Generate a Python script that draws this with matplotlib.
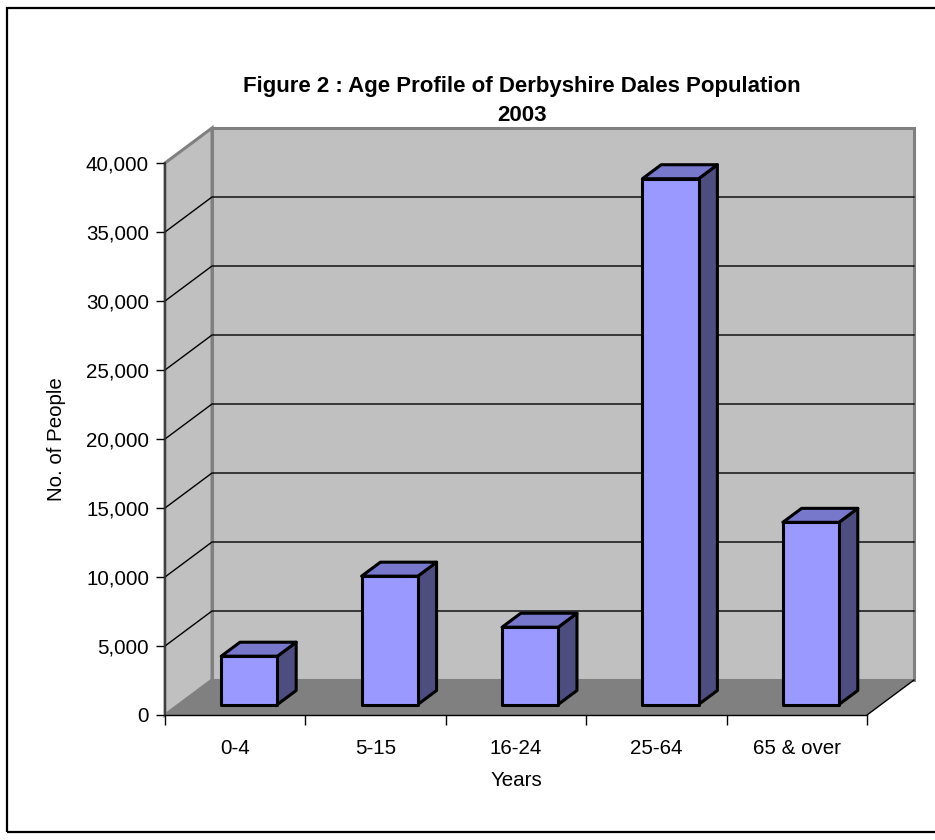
import matplotlib
matplotlib.use("Agg")
import matplotlib.pyplot as plt
from matplotlib.patches import Polygon, Rectangle
from matplotlib.ticker import FuncFormatter, FixedLocator

plt.rcParams['font.family'] = ['Liberation Sans', 'DejaVu Sans']

# Data
categories = ["0-4", "5-15", "16-24", "25-64", "65 & over"]
people = [3500, 9300, 5600, 38100, 13200]
y_ticks = list(range(0, 40001, 5000))

title = "Figure 2 : Age Profile of Derbyshire Dales Population\n2003"
x_title = "Years"
y_title = "No. of People"

# Colours (classic 3-D column palette)
WALL = "#c0c0c0"
WALL_EDGE = "#808080"
FLOOR = "#808080"
BAR_FRONT = "#9999ff"
BAR_TOP = "#7777cc"
BAR_SIDE = "#4d4d80"

W, H = 935, 840
fig = plt.figure(figsize=(W / 100, H / 100), dpi=100)
fig.patch.set_facecolor("white")

# Outer chart frame (its right edge runs past the canvas)
fig.add_artist(Rectangle((7 / W, 8 / H), (W + 10) / W, (H - 16) / H,
                         transform=fig.transFigure, fill=False,
                         edgecolor="black", linewidth=1.6))

# Front plane of the plot area
left, right, bottom, top = 165, 867, 715, 163
ax = fig.add_axes([left / W, (H - bottom) / H, (right - left) / W, (bottom - top) / H])
n = len(categories)
ymax = y_ticks[-1]
ax.set_xlim(0, n)
ax.set_ylim(0, ymax)
ax.patch.set_visible(False)

# Depth offset of the back plane, expressed in data units
px_per_x = (right - left) / n
px_per_y = (bottom - top) / ymax
DEPTH_PX = (47, 35)
DX = DEPTH_PX[0] / px_per_x
DY = DEPTH_PX[1] / px_per_y


def P(x, y, z):
    """Oblique projection of (category, value, depth 0..1) onto the axes."""
    return (x + z * DX, y + z * DY)


def poly(pts, **kw):
    ax.add_patch(Polygon(pts, closed=True, clip_on=False, **kw))


# Walls and floor
poly([P(0, 0, 1), P(n, 0, 1), P(n, ymax, 1), P(0, ymax, 1)],
     facecolor=WALL, edgecolor=WALL_EDGE, linewidth=2.2, zorder=0.5)
poly([P(0, 0, 0), P(0, 0, 1), P(0, ymax, 1), P(0, ymax, 0)],
     facecolor=WALL, edgecolor=WALL_EDGE, linewidth=2.2, zorder=0.6)
poly([P(0, 0, 0), P(n, 0, 0), P(n, 0, 1), P(0, 0, 1)],
     facecolor=FLOOR, edgecolor="none", zorder=0.7)
ax.plot(*zip(P(n, 0, 0), P(n, 0, 1)), color="black", lw=1.0, clip_on=False, zorder=0.8)

# Gridlines on back and side walls
for v in y_ticks[1:-1]:
    ax.plot(*zip(P(0, v, 0), P(0, v, 1), P(n, v, 1)), color="black", lw=1.0,
            clip_on=False, zorder=0.9)

# Bars
bw = 0.4
z0, z1 = 0.3, 0.7
for i, v in enumerate(people):
    c = i + 0.5
    xl, xr = c - bw / 2, c + bw / 2
    ekw = dict(edgecolor="black", linewidth=2.2, joinstyle="round", zorder=2)
    poly([P(xr, 0, z0), P(xr, 0, z1), P(xr, v, z1), P(xr, v, z0)], facecolor=BAR_SIDE, **ekw)
    poly([P(xl, v, z0), P(xr, v, z0), P(xr, v, z1), P(xl, v, z1)], facecolor=BAR_TOP, **ekw)
    poly([P(xl, 0, z0), P(xr, 0, z0), P(xr, v, z0), P(xl, v, z0)], facecolor=BAR_FRONT, **ekw)

# Axes lines, ticks and labels
for s in ("top", "right"):
    ax.spines[s].set_visible(False)
ax.spines["left"].set_color("#333333")
ax.spines["left"].set_linewidth(1.2)
ax.spines["bottom"].set_color("black")
ax.spines["bottom"].set_linewidth(1.0)

ax.set_yticks(y_ticks)
ax.yaxis.set_major_formatter(FuncFormatter(lambda v, _: f"{int(v):,}"))
ax.tick_params(axis="y", direction="out", length=6.5, width=1, pad=5,
               labelsize=14.8, color="black")

ax.xaxis.set_major_locator(FixedLocator(range(n + 1)))
ax.xaxis.set_minor_locator(FixedLocator([i + 0.5 for i in range(n)]))
ax.set_xticklabels([], minor=False)
ax.set_xticklabels(categories, minor=True)
ax.tick_params(axis="x", which="major", direction="out", length=7, width=1, color="black")
ax.tick_params(axis="x", which="minor", length=0, pad=17, labelsize=14.8)

ax.set_ylabel(y_title, fontsize=14.8, labelpad=14)
ax.set_xlabel(x_title, fontsize=14.8, labelpad=10)

fig.text(522 / W, 1 - 101 / H, title, ha="center", va="center",
         fontsize=16, fontweight="bold", linespacing=1.45)

fig.savefig("out.png", dpi=100, facecolor="white")
